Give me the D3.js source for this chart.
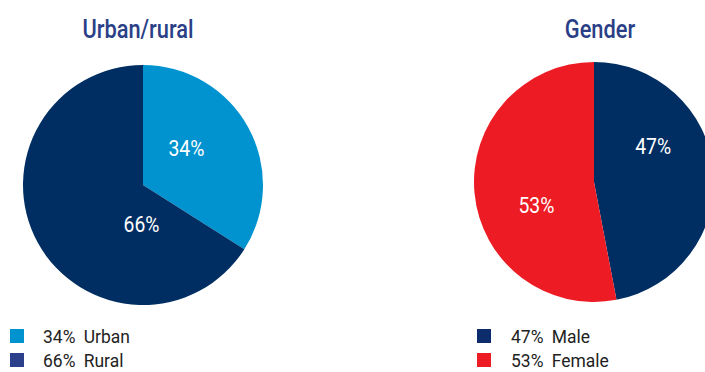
<!DOCTYPE html>
<html>
<head>
<meta charset="utf-8">
<script src="https://cdn.jsdelivr.net/npm/d3@7"></script>
<style>
  html, body { margin: 0; padding: 0; background: #fff; }
  svg { display: block; font-family: "Roboto", "Liberation Sans", sans-serif; }
</style>
</head>
<body>
<svg id="chart" width="705" height="372"></svg>
<script>
// Urban/rural split
const areaLabels = ["Urban", "Rural"];
const areaValues = [34, 66];
const areaColors = ["#0093d0", "#002e62"];
const areaKeyColors = ["#0093d0", "#2b3f8a"];

// Gender split
const genderLabels = ["Male", "Female"];
const genderValues = [47, 53];
const genderColors = ["#002e62", "#ed1c24"];
const genderKeyColors = ["#0d2c6c", "#ed1c24"];

const svg = d3.select("#chart");
const NARROW = 0.88; // horizontal squeeze for a condensed look

function drawPie(opts) {
  const g = svg.append("g");
  const data = opts.labels.map((l, i) => ({ label: l, value: opts.values[i], color: opts.colors[i], key: opts.keyColors[i] }));
  const pie = d3.pie().value(d => d.value).sort(null);
  const arc = d3.arc().innerRadius(0).outerRadius(opts.r);
  const arcs = pie(data);

  const pg = g.append("g").attr("transform", `translate(${opts.cx},${opts.cy})`);
  pg.selectAll("path").data(arcs).join("path")
    .attr("d", arc)
    .attr("fill", d => d.data.color);

  // value labels, placed by angle (deg, clockwise from 12 o'clock) and radius
  pg.selectAll("text").data(arcs).join("text")
    .attr("transform", (d, i) => {
      const p = opts.labelSpots[i];
      const a = p[0] * Math.PI / 180;
      return `translate(${p[1] * Math.sin(a)},${-p[1] * Math.cos(a)}) scale(${NARROW},1)`;
    })
    .attr("text-anchor", "middle")
    .attr("dy", "0.36em")
    .attr("fill", "#fff")
    .attr("font-size", 22)
    .text(d => d.data.value + "%");

  g.append("text")
    .attr("transform", `translate(${opts.titleX},38) scale(0.84,1)`)
    .attr("text-anchor", "middle")
    .attr("fill", "#2b3f87")
    .attr("font-size", 26)
    .attr("font-weight", 500)
    .text(opts.title);

  const leg = g.selectAll("g.key").data(data).join("g")
    .attr("class", "key")
    .attr("transform", (d, i) => `translate(${opts.legX},${329 + i * 24})`);
  leg.append("rect").attr("width", 14).attr("height", 14).attr("fill", d => d.key);
  const lt = leg.append("text")
    .attr("transform", `translate(${opts.legTextDx},14) scale(0.92,1)`)
    .attr("fill", "#222")
    .attr("font-size", 19);
  lt.append("tspan").text(d => `${d.value}%`);
  lt.append("tspan").attr("dx", 9).text(d => d.label);
}

drawPie({ title: "Urban/rural", titleX: 138, labels: areaLabels, values: areaValues, colors: areaColors, keyColors: areaKeyColors,
  cx: 143, cy: 185, r: 120, labelSpots: [[49.6, 57], [182.2, 39]], legX: 10, legTextDx: 33 });
drawPie({ title: "Gender", titleX: 600, labels: genderLabels, values: genderValues, colors: genderColors, keyColors: genderKeyColors,
  cx: 594, cy: 182, r: 120, labelSpots: [[59, 69], [248.4, 62]], legX: 477, legTextDx: 34 });
</script>
</body>
</html>
